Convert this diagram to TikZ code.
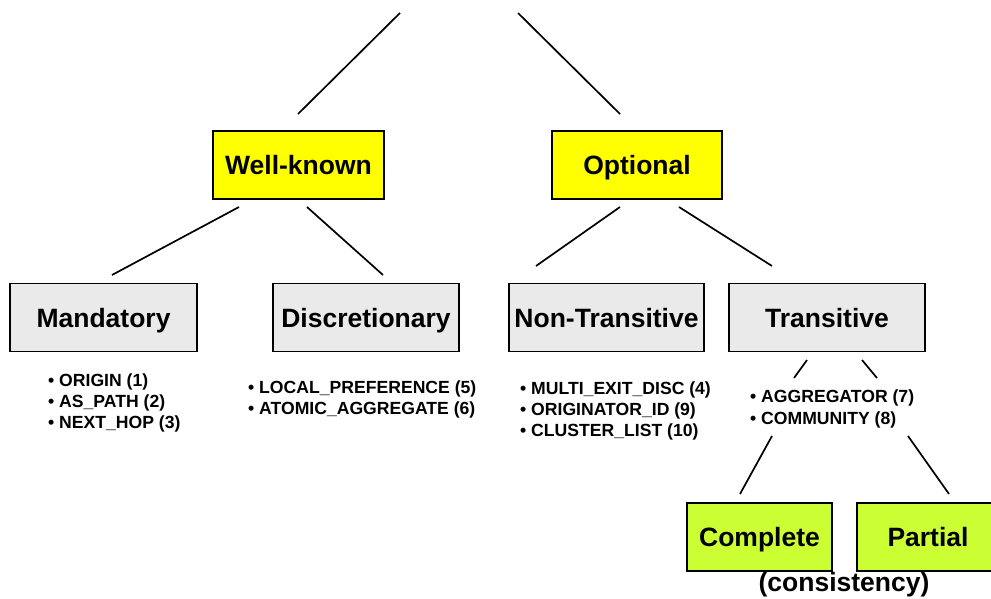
\documentclass[tikz,border=0pt]{standalone}
\usepackage{fontspec}
\setmainfont{Liberation Sans}
\definecolor{boxgray}{HTML}{EAEAEA}
\definecolor{boxyellow}{HTML}{FFFF00}
\definecolor{boxgreen}{HTML}{CCFF33}
\begin{document}
\begin{tikzpicture}[x=1pt,y=-1pt,
  box/.style={draw=black, line width=1.8pt, minimum height=68pt, inner sep=0pt,
    text height=19pt, text depth=0pt,
    font=\fontsize{26.5}{30}\selectfont\bfseries},
  lbl/.style={anchor=base west, inner sep=0pt,
    font=\fontsize{17.6}{21}\selectfont\bfseries},
  conn/.style={line width=1.7pt}]
\useasboundingbox (0,0) rectangle (991,599);
\clip (0,0) rectangle (991,599);

% boxes
\node[box, fill=boxyellow, minimum width=171pt] (wk) at (298.5,165) {Well-known};
\node[box, fill=boxyellow, minimum width=170pt] (opt) at (637,165) {Optional};
\node[box, fill=boxgray, minimum width=187pt] (man) at (103.5,317.5) {Mandatory};
\node[box, fill=boxgray, minimum width=186pt] (dis) at (366,317.5) {Discretionary};
\node[box, fill=boxgray, minimum width=195pt] (nt) at (606.5,317.5) {Non-Transitive};
\node[box, fill=boxgray, minimum width=196pt] (tr) at (827,317.5) {Transitive};
\node[box, fill=boxgreen, minimum width=145pt] (comp) at (759.5,537) {Complete};
\node[box, fill=boxgreen, minimum width=142pt] (part) at (928,537) {Partial};
\node[anchor=base, inner sep=0pt, font=\fontsize{26.5}{30}\selectfont\bfseries] (cons) at (844,591.5) {(consistency)};

% lists
\node[lbl] (m1) at (48,386) {• ORIGIN (1)};
\node[lbl] (m2) at (48,407) {• AS\_PATH (2)};
\node[lbl] (m3) at (48,428) {• NEXT\_HOP (3)};
\node[lbl] (d1) at (248,393) {• LOCAL\_PREFERENCE (5)};
\node[lbl] (d2) at (248,414) {• ATOMIC\_AGGREGATE (6)};
\node[lbl] (n1) at (520,394) {• MULTI\_EXIT\_DISC (4)};
\node[lbl] (n2) at (520,415) {• ORIGINATOR\_ID (9)};
\node[lbl] (n3) at (520,436) {• CLUSTER\_LIST (10)};
\node[lbl] (t1) at (750,402) {• AGGREGATOR (7)};
\node[lbl] (t2) at (750,424) {• COMMUNITY (8)};

% connector end points
\coordinate (rootL) at (400,13);
\coordinate (wkT) at (298,114);
\coordinate (rootR) at (518,13);
\coordinate (optT) at (620,114);
\coordinate (wkBL) at (239,207);
\coordinate (manT) at (112,275);
\coordinate (wkBR) at (307,207);
\coordinate (disT) at (383,275);
\coordinate (optBL) at (620,207);
\coordinate (ntT) at (536,266);
\coordinate (optBR) at (679,207);
\coordinate (trT) at (772,266);
\coordinate (trBL) at (807,360);
\coordinate (trL) at (794,378);
\coordinate (trBR) at (862,360);
\coordinate (trR) at (877,378);
\coordinate (lstL) at (772,436);
\coordinate (compT) at (740,494);
\coordinate (lstR) at (908,436);
\coordinate (partT) at (949,494);

\draw[conn] (rootL) -- (wkT);
\draw[conn] (rootR) -- (optT);
\draw[conn] (wkBL) -- (manT);
\draw[conn] (wkBR) -- (disT);
\draw[conn] (optBL) -- (ntT);
\draw[conn] (optBR) -- (trT);
\draw[conn] (trBL) -- (trL);
\draw[conn] (trBR) -- (trR);
\draw[conn] (lstL) -- (compT);
\draw[conn] (lstR) -- (partT);
\end{tikzpicture}
\end{document}
